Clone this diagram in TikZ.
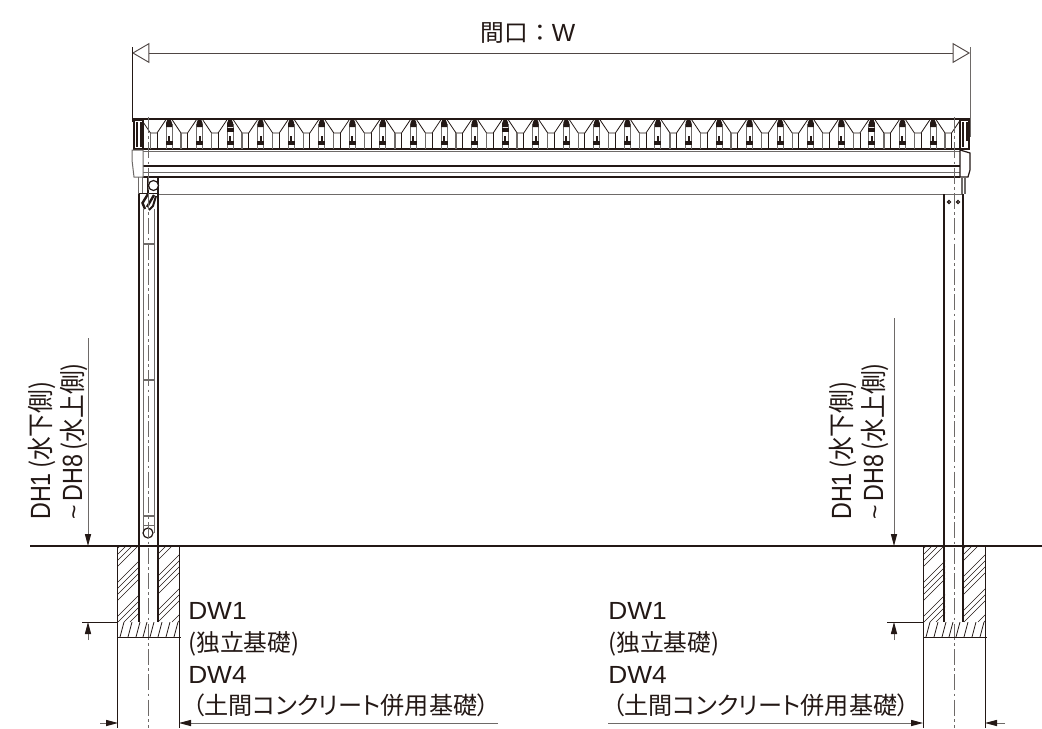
\documentclass[tikz,border=0pt]{standalone}
\usepackage{fontspec}
\setmainfont{Liberation Sans}
\newfontfamily\jpfont{Noto Sans CJK JP}
\newfontfamily\jppal[RawFeature=+palt]{Noto Sans CJK JP}
\usepackage{xcolor}
\definecolor{ink00}{HTML}{231815}
\definecolor{gry00}{HTML}{6E6A68}
\usetikzlibrary{arrows.meta}
\tikzstyle{ink_line} = [draw=ink00, line width=0.9pt]
\tikzstyle{thin_line} = [draw=ink00, line width=0.6pt]
\tikzstyle{gry_line} = [draw=gry00, line width=0.75pt]
\tikzstyle{center_line} = [draw=gry00, line width=0.7pt, dash pattern=on 12pt off 2.5pt on 2pt off 2.5pt]
\tikzstyle{dim_arr} = [draw=gry00, line width=0.7pt, -{Triangle[length=9pt,width=4.6pt,ink00]}]
\tikzstyle{open_arr} = [draw=ink00!80, line width=0.7pt, {Triangle[open,length=13pt,width=15pt,fill=white]}-{Triangle[open,length=13pt,width=15pt,fill=white]}]
\tikzstyle{jp_label} = [inner sep=0pt, anchor=base west, text=ink00, font=\fontsize{18.6}{20}\selectfont]
\tikzstyle{dh_label} = [jp_label, rotate=90]
\newcommand{\jptxt}[1]{{\fontsize{17.8}{20}\selectfont\jpfont #1}}
\newcommand{\contxt}[1]{{\fontsize{18.1}{20}\selectfont\jppal #1}}
\newcommand{\dwtxt}[1]{\scalebox{1.06}[1]{#1}}
\newcommand{\dhtxt}[1]{\scalebox{0.94}[1.12]{#1}}
\newcommand{\dhjp}[1]{\scalebox{1}[1.12]{\jptxt{#1}}}

\begin{document}
\begin{tikzpicture}[x=0.75pt,y=-0.75pt]
        \useasboundingbox (0,0) rectangle (1042,728);
        \coordinate (dimL) at (132,53);
        \coordinate (dimR) at (970,53);
        \draw [open_arr] (dimL) -- (dimR);
        \draw [thin_line] (132,47) -- (132,122);
        \draw [gry_line] (970,47) -- (970,137);
        \node (title)[jp_label,anchor=base] at (528,41) {\jptxt{間口：}W};
        \draw [ink_line,line width=1.2pt] (132,119) -- (970,119);
        \draw [ink_line,line width=1.4pt] (134,149) -- (968,149);
        \draw [gry_line] (143,151.5) -- (960,151.5);
        \draw [ink_line] (143,166) -- (960,166);
        \draw [gry_line] (143,172) -- (960,172);
        \draw [ink_line] (143,177) -- (960,177);
        \draw [gry_line] (158,194) -- (963,194);
        \foreach \i in {0,...,26} {
                \pgfmathsetmacro{\mx}{153.72+30.56*\i}
                \draw [thin_line] (\mx-12,120) -- (\mx-3.3,133) -- (\mx+3.3,133) -- (\mx+12,120);
                \draw [gry_line,line width=1pt] (\mx-3.3,133) -- (\mx-3.3,149);
                \draw [thin_line] (\mx+3.3,133) -- (\mx+3.3,149);
        }
        \foreach \i in {0,...,25} {
                \pgfmathsetmacro{\cx}{169+30.56*\i}
                \draw [gry_line] (\cx-3,124) -- (\cx-3,149) (\cx+3,124) -- (\cx+3,149);
                \fill [ink00] (\cx-1,118) -- (\cx+1,118) -- (\cx+3,123) -- (\cx+3,127) -- (\cx-3,127) -- (\cx-3,123) -- cycle;
                \fill [ink00] (\cx-1,136) rectangle (\cx+1,141);
                \fill [ink00] (\cx-3.5,141) rectangle (\cx+3.5,145);
        }
        \foreach \i in {2,11,23} {
                \pgfmathsetmacro{\cx}{169+30.56*\i}
                \fill [ink00] (\cx-3.5,128) rectangle (\cx+3.5,132);
                \draw [white,line width=1pt] (\cx,133) -- (\cx,136);
        }
        \draw [ink_line,fill=white] (134,120) rectangle (143,149);
        \fill [ink00] (136,122) rectangle (138,147);
        \fill [ink00] (140,122) rectangle (142,147);
        \draw [ink_line,fill=white] (960,120) rectangle (969,149);
        \fill [ink00] (962,122) rectangle (964,147);
        \fill [ink00] (966,122) rectangle (968,141);
        \draw [gry_line,fill=white] (132,150) -- (143,150) -- (143,177) -- (134,177) -- (132,160) -- cycle;
        \draw [ink_line,fill=white] (960,150) -- (970,153) -- (970,170) -- (968,177) -- (960,177) -- cycle;
        \draw [gry_line] (138,177) -- (138,194) (142,177) -- (142,194);
        \draw [gry_line,line width=1.2pt] (962,177) -- (962,194) (965,177) -- (965,194);
        \draw [ink_line] (148,178) -- (148,194) (158,178) -- (158,194);
        \draw [ink_line] (147,177.5) -- (161,177.5);
        \draw [ink_line,fill=white] (153.5,185.5) circle (5);
        \draw [ink_line,line width=1.3pt] (139,193.5) -- (158,193.5);
        \draw [ink_line,line width=1.8pt] (154,195) -- (147,207);
        \draw [ink_line,line width=1.8pt] (148,194) -- (142.5,203) -- (145,209);
        \draw [ink_line,line width=1.5pt] (156,196) -- (153,206) -- (149,210);
        \draw [ink_line,line width=1.1pt] (139,194) -- (139,622) (158,194) -- (158,622);
        \draw [gry_line] (143,209) -- (143,525) (154,209) -- (154,525);
        \foreach \y in {244,380,516} {
                \draw [gry_line,line width=1.5pt] (143,\y) -- (154,\y);
        }
        \draw [gry_line] (143,525) -- (154,525) (143,525) -- (143,533) (154,525) -- (154,533);
        \draw [ink_line,fill=white] (148,533) circle (5);
        \draw [ink_line] (944,194) -- (944,622) (963,194) -- (963,622);
        \draw [ink_line,fill=white] (949,202) circle (1.6) (958,202) circle (1.6);
        \foreach \cx in {148,954} {
                \draw [center_line] (\cx,117) -- (\cx,728);
        }
        \foreach \cx in {148,954} {
                \begin{scope}[shift={(\cx,546)}]
                        \begin{scope}
                                \clip (-30,0) rectangle (-9,76) (10,0) rectangle (31,76);
                                \foreach \k in {-104,-98,-92,-86,-70,-64,-58,-52,-36,-30,-24,-18,-2,4,10,24,30,36,42} {
                                        \draw [thin_line,line width=0.5pt] (\k,76) -- (\k+76,0);
                                }
                        \end{scope}
                        \begin{scope}
                                \clip (-30,76) rectangle (32,91);
                                \foreach \k in {-28,-20,-12,-5,2,10,18,26} {
                                        \draw [thin_line] (\k,91) -- (\k+4,76);
                                }
                        \end{scope}
                        \draw [thin_line] (-31,0) -- (-31,182);
                        \draw [thin_line] (31,0) -- (31,182);
                        \draw [thin_line] (-31,91) -- (33,91);
                \end{scope}
        }
        \draw [ink_line,line width=1.1pt] (30,546) -- (1042,546);
        \coordinate (dhTopL) at (88,338);
        \coordinate (dhGndL) at (88,546);
        \coordinate (dhLowL) at (88,640);
        \coordinate (dhFotL) at (88,622);
        \coordinate (dhTopR) at (894,318);
        \coordinate (dhGndR) at (894,546);
        \coordinate (dhLowR) at (894,640);
        \coordinate (dhFotR) at (894,622);
        \draw [dim_arr] (dhTopL) -- (dhGndL);
        \draw [dim_arr] (dhLowL) -- (dhFotL);
        \draw [dim_arr] (dhTopR) -- (dhGndR);
        \draw [dim_arr] (dhLowR) -- (dhFotR);
        \draw [thin_line] (82,622) -- (118,622);
        \draw [thin_line] (887,622) -- (923,622);
        \coordinate (dwA) at (100,723);
        \coordinate (dwB) at (118,723);
        \coordinate (dwC) at (498,723);
        \coordinate (dwD) at (179,723);
        \coordinate (dwE) at (608,723);
        \coordinate (dwF) at (923,723);
        \coordinate (dwG) at (1005,723);
        \coordinate (dwH) at (985,723);
        \draw [dim_arr] (dwA) -- (dwB);
        \draw [dim_arr] (dwC) -- (dwD);
        \draw [dim_arr] (dwE) -- (dwF);
        \draw [dim_arr] (dwG) -- (dwH);
        \node (dh1L)[dh_label] at (50,520) {\dhtxt{DH1}\,\dhjp{(水下側)}};
        \node (dh8L)[dh_label] at (82,520) {\textasciitilde\,\dhtxt{DH8}\,\dhjp{(水上側)}};
        \node (dh1R)[dh_label] at (851,520) {\dhtxt{DH1}\,\dhjp{(水下側)}};
        \node (dh8R)[dh_label] at (883,520) {\textasciitilde\,\dhtxt{DH8}\,\dhjp{(水上側)}};
        \node (dw1L)[jp_label] at (188,619) {\dwtxt{DW1}};
        \node (indL)[jp_label] at (188,651) {\jptxt{(独立基礎)}};
        \node (dw4L)[jp_label] at (188,683) {\dwtxt{DW4}};
        \node (conL)[jp_label] at (188,714) {\hspace{3pt}\contxt{（土間コンクリート併用基礎）}};
        \node (dw1R)[jp_label] at (608,619) {\dwtxt{DW1}};
        \node (indR)[jp_label] at (608,651) {\jptxt{(独立基礎)}};
        \node (dw4R)[jp_label] at (608,683) {\dwtxt{DW4}};
        \node (conR)[jp_label] at (608,714) {\hspace{3pt}\contxt{（土間コンクリート併用基礎）}};
\end{tikzpicture}
\end{document}
